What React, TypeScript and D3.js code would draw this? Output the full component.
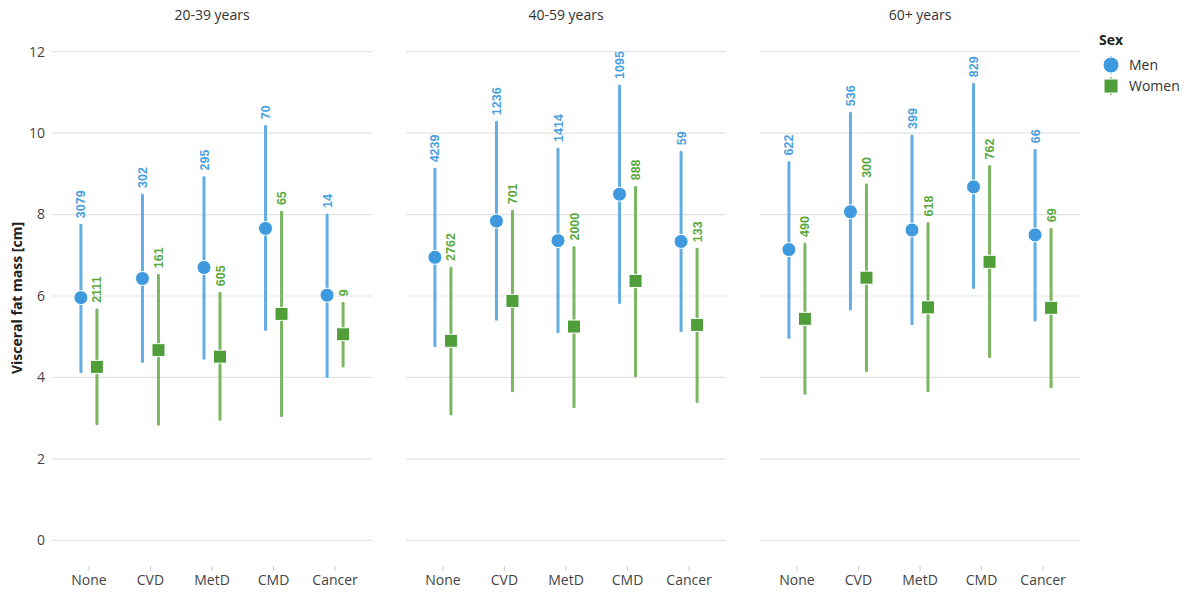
import React from "react";
import * as d3 from "d3";

// Age groups (facets) and disease categories
const ageGroups = ["20-39 years", "40-59 years", "60+ years"];
const categories = ["None", "CVD", "MetD", "CMD", "Cancer"];
const yTicks = [0, 2, 4, 6, 8, 10, 12];

// Men: mean, lower, upper, n — one row per age group, one entry per category
const menMean = [
  [5.96, 6.43, 6.7, 7.66, 6.02],
  [6.95, 7.84, 7.36, 8.5, 7.34],
  [7.14, 8.07, 7.62, 8.68, 7.5],
];
const menLow = [
  [4.14, 4.39, 4.47, 5.18, 4.02],
  [4.78, 5.43, 5.12, 5.84, 5.15],
  [4.98, 5.68, 5.32, 6.21, 5.41],
];
const menHigh = [
  [7.74, 8.48, 8.91, 10.17, 7.99],
  [9.11, 10.27, 9.61, 11.16, 9.53],
  [9.28, 10.49, 9.93, 11.2, 9.58],
];
const menN = [
  [3079, 302, 295, 70, 14],
  [4239, 1236, 1414, 1095, 59],
  [622, 536, 399, 829, 66],
];

// Women: mean, lower, upper, n
const womenMean = [
  [4.26, 4.67, 4.51, 5.56, 5.06],
  [4.9, 5.88, 5.25, 6.37, 5.29],
  [5.44, 6.45, 5.72, 6.84, 5.71],
];
const womenLow = [
  [2.86, 2.85, 2.97, 3.06, 4.28],
  [3.1, 3.67, 3.28, 4.04, 3.41],
  [3.61, 4.17, 3.67, 4.51, 3.77],
];
const womenHigh = [
  [5.66, 6.51, 6.07, 8.06, 5.82],
  [6.69, 8.08, 7.19, 8.67, 7.15],
  [7.28, 8.73, 7.78, 9.18, 7.64],
];
const womenN = [
  [2111, 161, 605, 65, 9],
  [2762, 701, 2000, 888, 133],
  [490, 300, 618, 762, 69],
];

const W = 1191;
const H = 592;
const panelLeft = [52, 406, 760];
const panelWidth = 320;
const top = 51.7;
const bottom = 540.3;

const MEN_LINE = "#63ADE5";
const MEN_PT = "#3E99DE";
const MEN_TXT = "#4BA0E0";
const WOMEN_LINE = "#7BB661";
const WOMEN_PT = "#4F9E3A";
const WOMEN_TXT = "#5AA83C";

const FONT = "'Open Sans', 'Noto Sans', sans-serif";
const LABEL_FONT = "'Liberation Sans', Arial, sans-serif";

export default function App() {
  const y = d3.scaleLinear().domain([0, 12]).range([bottom, top]);
  const dodge = 8;

  const series = [
    { key: "men", mean: menMean, low: menLow, high: menHigh, n: menN, line: MEN_LINE, pt: MEN_PT, txt: MEN_TXT, off: -dodge },
    { key: "women", mean: womenMean, low: womenLow, high: womenHigh, n: womenN, line: WOMEN_LINE, pt: WOMEN_PT, txt: WOMEN_TXT, off: dodge },
  ];

  return (
    <svg width={W} height={H} style={{ position: "absolute", left: 0, top: 0, background: "#fff" }}>
      {/* y axis labels */}
      {yTicks.map((t) => (
        <text key={t} x={45} y={y(t)} dy="0.35em" textAnchor="end" fontFamily={FONT} fontSize={14} fill="#444">
          {t}
        </text>
      ))}
      <text
        transform={`translate(22,${(top + bottom) / 2 + 2}) rotate(-90)`}
        textAnchor="middle"
        fontFamily={FONT}
        fontSize={14}
        fontWeight="bold"
        fill="#222"
      >
        Visceral fat mass [cm]
      </text>

      {ageGroups.map((g, gi) => {
        const x0 = panelLeft[gi];
        const x = d3.scalePoint<string>().domain(categories).range([x0, x0 + panelWidth]).padding(0.6);
        return (
          <g key={g}>
            <text x={x0 + panelWidth / 2} y={20} textAnchor="middle" fontFamily={FONT} fontSize={14} fill="#333">
              {g}
            </text>
            {yTicks.map((t) => (
              <line key={t} x1={x0} x2={x0 + panelWidth} y1={y(t)} y2={y(t)} stroke="#e3e3e3" strokeWidth={1.2} />
            ))}
            {categories.map((c) => (
              <g key={c}>
                <line x1={x(c)} x2={x(c)} y1={566} y2={571} stroke="#ccc" strokeWidth={1} />
                <text x={x(c)} y={585} textAnchor="middle" fontFamily={FONT} fontSize={14} fill="#444">
                  {c}
                </text>
              </g>
            ))}
            {series.map((s) =>
              categories.map((c, ci) => {
                const cx = (x(c) as number) + s.off;
                const hi = y(s.high[gi][ci]);
                const lo = y(s.low[gi][ci]);
                const m = y(s.mean[gi][ci]);
                return (
                  <g key={s.key + c}>
                    <line x1={cx} x2={cx} y1={hi} y2={lo} stroke={s.line} strokeWidth={3} strokeLinecap="round" />
                    {s.key === "men" ? (
                      <circle cx={cx} cy={m} r={7} fill={s.pt} stroke="#fff" strokeWidth={1} />
                    ) : (
                      <rect x={cx - 6.5} y={m - 6.5} width={13} height={13} fill={s.pt} stroke="#fff" strokeWidth={1} />
                    )}
                    <text
                      transform={`translate(${cx + 4.5},${hi - 7}) rotate(-90)`}
                      fontFamily={LABEL_FONT}
                      fontWeight="bold"
                      fontSize={12.5}
                      fill={s.txt}
                    >
                      {s.n[gi][ci]}
                    </text>
                  </g>
                );
              })
            )}
          </g>
        );
      })}

      {/* legend */}
      <text x={1099} y={45} fontFamily={FONT} fontSize={14} fontWeight="bold" fill="#222">
        Sex
      </text>
      <line x1={1111} x2={1111} y1={56} y2={74} stroke={MEN_LINE} strokeWidth={1.5} strokeDasharray="2,2" />
      <circle cx={1111} cy={65} r={8} fill={MEN_PT} stroke="#fff" strokeWidth={1} />
      <text x={1129} y={65} dy="0.35em" fontFamily={FONT} fontSize={14} fill="#333">
        Men
      </text>
      <line x1={1111} x2={1111} y1={77} y2={95} stroke={WOMEN_LINE} strokeWidth={1.5} strokeDasharray="2,2" />
      <rect x={1104} y={79} width={14} height={14} fill={WOMEN_PT} stroke="#fff" strokeWidth={1} />
      <text x={1129} y={86} dy="0.35em" fontFamily={FONT} fontSize={14} fill="#333">
        Women
      </text>
    </svg>
  );
}
